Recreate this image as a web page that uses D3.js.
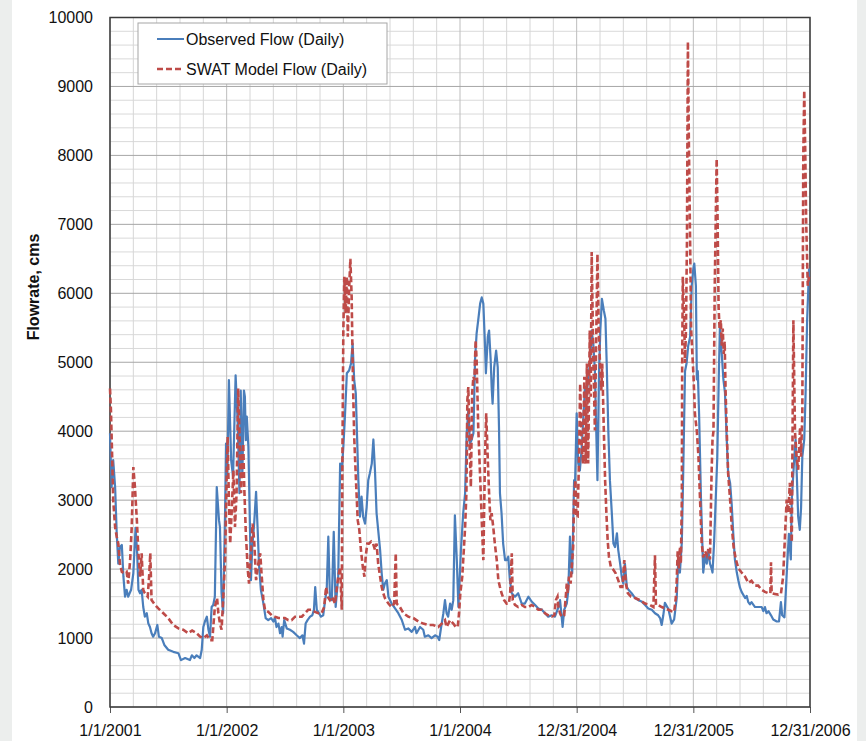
<!DOCTYPE html>
<html>
<head>
<meta charset="utf-8">
<script src="https://cdn.jsdelivr.net/npm/d3@7"></script>
<style>
  html, body { margin: 0; padding: 0; background: #eceeed; }
  svg { display: block; }
  text { font-family: "Liberation Sans", Arial, sans-serif; fill: #111; }
</style>
</head>
<body>
<div id="chart"></div>
<script>
// days since 1/1/2001 and flow (cms)
var obsDay = [0,5,10,16,21,26,31,37,42,47,52,57,66,73,80,85,89,94,99,104,109,115,120,125,130,135,141,148,153,162,170,182,198,214,222,235,250,256,264,271,282,287,292,297,303,308,313,318,323,328,334,341,344,349,354,360,363,367,372,379,385,393,400,405,409,414,419,422,425,428,433,438,441,445,451,457,462,466,472,480,487,495,504,511,516,521,527,532,537,540,545,553,563,573,584,594,602,607,612,618,626,633,638,642,647,654,660,667,673,678,683,688,694,700,706,714,720,725,730,735,741,748,754,759,764,769,773,777,782,787,792,798,803,808,813,819,824,829,834,839,845,850,855,860,866,871,881,889,902,913,923,933,944,954,959,970,980,985,996,1006,1017,1025,1030,1036,1043,1048,1053,1058,1064,1069,1074,1079,1085,1090,1098,1105,1111,1116,1121,1126,1131,1137,1142,1147,1152,1158,1163,1168,1173,1176,1182,1186,1191,1194,1197,1202,1208,1213,1217,1220,1225,1230,1236,1241,1246,1251,1257,1267,1277,1288,1298,1309,1319,1330,1340,1351,1361,1371,1382,1392,1403,1408,1413,1416,1421,1429,1434,1439,1442,1446,1452,1455,1460,1465,1470,1476,1481,1486,1491,1496,1502,1507,1512,1517,1520,1525,1530,1534,1539,1545,1550,1554,1559,1564,1570,1575,1580,1586,1590,1596,1601,1606,1611,1617,1622,1632,1643,1653,1663,1674,1684,1695,1705,1715,1721,1726,1731,1736,1747,1757,1765,1773,1778,1783,1789,1793,1799,1804,1809,1815,1820,1825,1828,1833,1836,1839,1843,1849,1856,1862,1867,1872,1877,1882,1885,1890,1895,1900,1905,1908,1914,1919,1924,1929,1934,1940,1945,1950,1955,1961,1966,1971,1976,1987,1992,1997,2002,2007,2018,2028,2039,2044,2049,2054,2060,2068,2075,2086,2093,2099,2103,2110,2114,2118,2124,2130,2133,2141,2145,2149,2153,2158,2162,2166,2172,2176,2181,2187];
var obsFlow = [3970,3190,3580,3190,2520,2080,2320,2350,1890,1600,1700,1600,1700,1940,2600,2230,1700,1650,1700,1450,1310,1360,1210,1160,1070,1020,1070,1190,1020,1000,900,830,800,780,680,710,680,750,710,750,710,830,1160,1240,1310,1120,1020,1450,1480,1600,3190,2710,2610,1650,1360,2810,3820,3340,4740,3580,3340,4810,4060,3100,4590,3340,4590,4500,3870,4210,3770,2570,1840,2320,2660,3120,2570,2080,1700,1500,1290,1260,1290,1240,1290,1160,1210,1070,1160,1020,1260,1140,1120,1090,1040,1000,1040,920,1210,1260,1310,1330,1410,1740,1410,1360,1310,1330,1550,1700,2470,1600,1550,2540,1450,1890,3530,3430,3770,4210,4840,4880,4980,5270,4740,4550,3920,3290,2760,3050,2760,2660,2900,3290,3390,3530,3880,3430,2810,2570,2280,1940,1700,1790,1840,1600,1500,1450,1360,1260,1120,1140,1090,1160,1070,1160,1120,1020,1040,1000,1040,1020,970,1160,1360,1550,1360,1310,1500,1410,1550,2780,2130,1450,2280,2810,3100,3970,4300,3820,3870,3970,5030,5420,5610,5850,5940,5850,5270,4840,5370,5460,5030,4640,4400,4930,5170,4930,4060,3100,2810,2370,2130,2130,2180,1840,1650,1600,1650,1500,1500,1600,1530,1480,1430,1410,1360,1310,1330,1310,1450,1550,1310,1160,1410,1500,1700,2470,2080,1940,3290,3240,4260,3530,3430,3770,4210,4640,4500,4790,4980,5460,5270,4880,4260,3290,4880,5460,5920,5750,5630,4980,4010,3290,2810,2370,2320,2520,2280,2080,1890,1790,2080,1740,1700,1650,1580,1550,1530,1480,1430,1410,1360,1330,1290,1190,1330,1510,1420,1210,1270,1580,2140,1950,2390,3320,4870,4990,5240,5370,6110,6360,6430,6110,4750,4870,4250,3010,1950,2200,2080,2260,2080,2010,1950,2390,3010,3630,4870,5490,5120,4750,4560,3940,3380,3250,2940,2510,2140,1950,1830,1730,1670,1580,1610,1520,1490,1520,1450,1450,1450,1390,1450,1360,1390,1330,1270,1240,1240,1520,1330,1300,1640,2010,2510,2140,3010,3630,3880,3320,2760,2570,2880,3630,3880,4500,5610,6360];

var swatDay = [0,3,7,10,16,21,26,31,37,45,52,57,63,68,73,78,84,89,94,99,104,109,118,123,126,130,141,151,167,182,198,214,229,245,257,271,282,292,303,313,320,324,328,335,339,344,349,354,360,365,368,372,376,381,386,391,396,401,406,410,414,417,420,425,431,435,441,446,451,457,464,470,474,480,485,495,506,516,527,537,547,558,568,579,589,600,610,620,631,641,652,662,670,676,681,688,695,704,709,714,720,725,727,730,733,737,741,744,748,752,756,760,764,770,775,780,785,791,796,800,805,810,817,823,829,834,839,845,850,855,860,871,881,889,894,897,907,918,933,949,965,980,996,1011,1027,1038,1048,1053,1064,1074,1082,1088,1092,1096,1102,1107,1111,1115,1118,1121,1125,1129,1133,1137,1140,1144,1147,1152,1158,1163,1168,1173,1177,1182,1186,1190,1194,1199,1204,1210,1215,1220,1225,1233,1241,1248,1252,1257,1260,1267,1277,1288,1298,1309,1319,1330,1340,1351,1361,1371,1382,1390,1395,1400,1403,1408,1413,1421,1426,1429,1432,1436,1441,1444,1449,1452,1456,1459,1463,1467,1471,1476,1480,1484,1488,1492,1496,1501,1504,1507,1512,1517,1520,1525,1529,1533,1537,1540,1545,1549,1553,1557,1561,1567,1575,1582,1590,1597,1603,1609,1614,1620,1630,1643,1658,1674,1689,1700,1705,1708,1715,1726,1736,1747,1757,1765,1770,1773,1776,1780,1783,1786,1789,1790,1792,1797,1799,1802,1805,1808,1811,1815,1818,1822,1826,1830,1836,1841,1846,1851,1856,1862,1867,1872,1877,1882,1885,1888,1892,1895,1898,1901,1904,1907,1911,1914,1917,1920,1923,1926,1930,1934,1940,1945,1951,1958,1966,1976,1987,1997,2007,2018,2028,2039,2049,2060,2066,2068,2070,2080,2091,2099,2106,2112,2117,2122,2127,2133,2138,2143,2148,2153,2159,2162,2166,2169,2172,2175,2178,2183,2187];
var swatFlow = [4620,4300,3580,3000,2610,2470,2370,2080,1960,1940,1960,1790,2130,2610,3480,3190,2710,2230,1890,2230,1700,1650,1600,1940,2230,1550,1480,1430,1360,1290,1190,1140,1120,1070,1110,1070,1020,1000,1040,970,970,1210,1450,1580,1360,1210,1120,1550,2130,3340,3920,3000,2370,2860,3430,2610,3100,4620,3820,3100,3580,3820,3190,2520,1990,1790,2280,2660,2420,1840,2080,2230,1940,1550,1410,1380,1330,1310,1290,1290,1290,1260,1260,1310,1310,1310,1360,1410,1410,1380,1360,1360,1450,1740,1600,1550,1600,1500,1700,1890,2030,1410,3530,5460,6240,5710,6240,5370,6040,6500,5950,4740,3920,3240,2710,2570,2280,2030,1890,2180,2370,2370,2400,2370,2280,2370,2080,1890,1740,1650,1580,1500,1450,1500,2230,1500,1450,1360,1310,1290,1240,1210,1190,1190,1160,1210,1260,1160,1260,1210,1160,1160,1360,1650,1890,2280,2610,3100,4450,4640,3770,3190,4550,4790,4740,5320,5030,4060,3340,2710,2130,3580,4260,3580,3100,2710,2810,2610,2370,2130,1840,1740,1650,1550,1500,1500,1650,2230,1550,1480,1450,1480,1450,1450,1480,1450,1410,1410,1360,1330,1310,1330,1550,1600,1450,1360,1310,1330,1600,1790,1650,1890,1790,1990,2320,3050,3290,2760,2760,3530,4690,3770,3530,4790,3530,4980,3530,5460,4500,6600,5080,4010,4980,6570,5460,4980,4590,4980,4010,3290,2810,2420,2180,2030,1990,1940,1840,1740,1740,2130,1790,1650,1600,1580,1550,1500,1480,1450,2200,1480,1480,1450,1430,1410,1390,1380,1580,1830,2260,2010,2320,2080,3010,4870,6240,5490,4990,5490,6730,9650,8220,6730,5490,5120,4750,4250,4000,3630,3010,2390,2170,2260,2200,2290,2140,3380,3880,4000,6110,7040,7950,7040,5800,5490,5610,5240,5490,5120,5300,4560,3940,3380,3010,2630,2320,2140,2010,1950,1890,1800,1830,1760,1760,1700,1670,1650,1650,2100,1650,1640,1630,1640,1890,2510,3010,2820,3250,2390,5610,4000,3630,3440,4060,3630,4250,7970,8940,8100,7040,6110,6240];

var xTickDays = [0, 365, 730, 1095, 1460, 1825, 2190];
var xTickLabels = ["1/1/2001", "1/1/2002", "1/1/2003", "1/1/2004", "12/31/2004", "12/31/2005", "12/31/2006"];
var yTicks = [0, 1000, 2000, 3000, 4000, 5000, 6000, 7000, 8000, 9000, 10000];
var seriesNames = ["Observed Flow (Daily)", "SWAT Model Flow (Daily)"];

function drawChart() {
  var start = new Date(Date.UTC(2001, 0, 1));
  function toDate(day) { return d3.utcDay.offset(start, day); }

  var W = 866, H = 741;
  var margin = { left: 110, right: 810, top: 17.5, bottom: 707 };

  var svg = d3.select("#chart").append("svg")
    .attr("width", W)
    .attr("height", H);

  // slide-style white panel
  svg.append("rect")
    .attr("x", 12).attr("y", 0)
    .attr("width", 845).attr("height", H)
    .attr("fill", "#ffffff");

  var x = d3.scaleUtc()
    .domain([start, toDate(2190)])
    .range([margin.left, margin.right]);

  var y = d3.scaleLinear()
    .domain([0, 10000])
    .range([margin.bottom, margin.top]);

  // minor grid
  var minorX = d3.range(0, 2191, 73);
  var minorY = d3.range(0, 10001, 200);

  svg.append("g").selectAll("line")
    .data(minorY.filter(v => v % 1000 !== 0))
    .enter().append("line")
    .attr("x1", margin.left).attr("x2", margin.right)
    .attr("y1", d => y(d)).attr("y2", d => y(d))
    .attr("stroke", "#d9d9d9").attr("stroke-width", 1);

  svg.append("g").selectAll("line")
    .data(minorX.filter(v => xTickDays.indexOf(v) < 0))
    .enter().append("line")
    .attr("x1", d => x(toDate(d))).attr("x2", d => x(toDate(d)))
    .attr("y1", margin.top).attr("y2", margin.bottom)
    .attr("stroke", "#d6d6d6").attr("stroke-width", 1);

  // major grid
  svg.append("g").selectAll("line")
    .data(xTickDays)
    .enter().append("line")
    .attr("x1", d => x(toDate(d))).attr("x2", d => x(toDate(d)))
    .attr("y1", margin.top).attr("y2", margin.bottom)
    .attr("stroke", "#bdbdbd").attr("stroke-width", 1);

  svg.append("g").selectAll("line")
    .data(yTicks)
    .enter().append("line")
    .attr("x1", margin.left).attr("x2", margin.right)
    .attr("y1", d => y(d)).attr("y2", d => y(d))
    .attr("stroke", "#a6a6a6").attr("stroke-width", 1);

  // axes
  var xAxis = d3.axisBottom(x)
    .tickValues(xTickDays.map(toDate))
    .tickFormat((d, i) => xTickLabels[i])
    .tickSize(6)
    .tickPadding(12);

  var yAxis = d3.axisLeft(y)
    .tickValues(yTicks)
    .tickFormat(d3.format("d"))
    .tickSize(0)
    .tickPadding(17);

  var gx = svg.append("g")
    .attr("transform", `translate(0, ${margin.bottom})`)
    .call(xAxis);
  gx.select(".domain").remove();
  gx.selectAll(".tick line").attr("stroke", "#555");
  gx.selectAll("text")
    .attr("font-size", "16px")
    .attr("font-family", "Liberation Sans, Arial, sans-serif")
    .attr("fill", "#111");

  var gy = svg.append("g")
    .attr("transform", `translate(${margin.left}, 0)`)
    .call(yAxis);
  gy.select(".domain").remove();
  gy.selectAll("text")
    .attr("font-size", "16px")
    .attr("font-family", "Liberation Sans, Arial, sans-serif")
    .attr("fill", "#111");

  // plot frame
  svg.append("rect")
    .attr("x", margin.left).attr("y", margin.top)
    .attr("width", margin.right - margin.left)
    .attr("height", margin.bottom - margin.top)
    .attr("fill", "none")
    .attr("stroke", "#3a3a3a")
    .attr("stroke-width", 1.5);

  // series
  var obsData = obsDay.map((d, i) => ({ date: toDate(d), v: obsFlow[i] }));
  var swatData = swatDay.map((d, i) => ({ date: toDate(d), v: swatFlow[i] }));

  var line = d3.line()
    .x(d => x(d.date))
    .y(d => y(d.v));

  svg.append("path")
    .datum(obsData)
    .attr("d", line)
    .attr("fill", "none")
    .attr("stroke", "#4a7ebb")
    .attr("stroke-width", 2.2)
    .attr("stroke-linejoin", "round");

  svg.append("path")
    .datum(swatData)
    .attr("d", line)
    .attr("fill", "none")
    .attr("stroke", "#be4b48")
    .attr("stroke-width", 2.6)
    .attr("stroke-dasharray", "6,3");

  // y axis title
  svg.append("text")
    .attr("transform", "translate(39, 287) rotate(-90)")
    .attr("text-anchor", "middle")
    .attr("font-size", "16px")
    .attr("font-weight", "bold")
    .text("Flowrate, cms");

  // legend
  var legend = svg.append("g");
  legend.append("rect")
    .attr("x", 138).attr("y", 23)
    .attr("width", 249).attr("height", 61)
    .attr("fill", "#fff")
    .attr("stroke", "#a6a6a6");

  var legendColors = ["#4a7ebb", "#be4b48"];
  var legendDash = [null, "6,3"];
  seriesNames.forEach(function(name, i) {
    var ly = 39 + i * 30;
    legend.append("line")
      .attr("x1", 157).attr("x2", 184)
      .attr("y1", ly).attr("y2", ly)
      .attr("stroke", legendColors[i])
      .attr("stroke-width", i ? 2.6 : 2)
      .attr("stroke-dasharray", legendDash[i]);
    legend.append("text")
      .attr("x", 186).attr("y", ly)
      .attr("dy", "0.35em")
      .attr("font-size", "16px")
      .text(name);
  });
}

drawChart();
</script>
</body>
</html>
